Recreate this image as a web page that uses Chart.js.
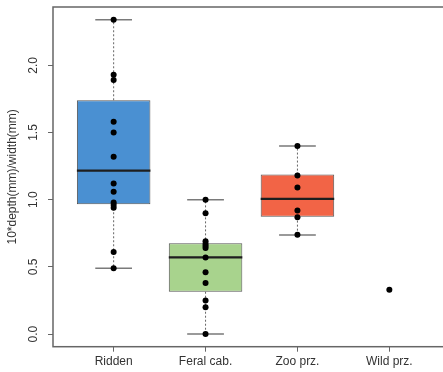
<!DOCTYPE html>
<html>
<head>
<meta charset="utf-8">
<script src="https://cdn.jsdelivr.net/npm/chart.js@4/dist/chart.umd.min.js"></script>
<style>
  html, body { margin: 0; padding: 0; background: #fff; overflow: hidden; }
  #wrap { width: 443px; height: 372px; overflow: hidden; }
</style>
</head>
<body>
<div id="wrap"><canvas id="c" width="460" height="372"></canvas></div>
<script>
// Groups along the x axis
const groups = ['Ridden', 'Feral cab.', 'Zoo prz.', 'Wild prz.'];

// Box summary per group (null = no box drawn)
const whiskerLow  = [0.489, 0.0,   0.738, null];
const boxLower    = [0.966, 0.315, 0.874, null];
const boxMedian   = [1.217, 0.571, 1.006, null];
const boxUpper    = [1.740, 0.675, 1.187, null];
const whiskerHigh = [2.340, 1.000, 1.400, null];

// Individual observations per group
const riddenPts = [2.34, 1.93, 1.89, 1.58, 1.50, 1.32, 1.12, 1.06, 0.98, 0.96, 0.94, 0.61, 0.49];
const feralPts  = [1.00, 0.90, 0.69, 0.67, 0.655, 0.64, 0.57, 0.46, 0.38, 0.25, 0.20, 0.00];
const zooPts    = [1.40, 1.18, 1.09, 0.92, 0.87, 0.74];
const wildPts   = [0.33];
const groupPts  = [riddenPts, feralPts, zooPts, wildPts];

// Y axis tick values
const yTicks = [0.0, 0.5, 1.0, 1.5, 2.0];

const boxColors = ['#4a90d2', '#a8d38d', '#f26446'];
const BOX_HALF = 0.4, CAP_HALF = 0.2;

// Build the drawable series from the arrays above
const boxData = [], medianData = [], stemData = [], capData = [], pointData = [];
groups.forEach((g, i) => {
  const x = i + 1;
  if (boxLower[i] !== null) {
    boxData.push({ x: x, y: [boxLower[i], boxUpper[i]] });
    medianData.push({ x: x - BOX_HALF, y: boxMedian[i] }, { x: x + BOX_HALF, y: boxMedian[i] }, { x: x + 0.5, y: null });
    stemData.push({ x: x, y: boxUpper[i] }, { x: x, y: whiskerHigh[i] }, { x: x + 0.01, y: null });
    stemData.push({ x: x, y: boxLower[i] }, { x: x, y: whiskerLow[i] }, { x: x + 0.01, y: null });
    capData.push({ x: x - CAP_HALF, y: whiskerHigh[i] }, { x: x + CAP_HALF, y: whiskerHigh[i] }, { x: x + 0.3, y: null });
    capData.push({ x: x - CAP_HALF, y: whiskerLow[i] }, { x: x + CAP_HALF, y: whiskerLow[i] }, { x: x + 0.3, y: null });
  }
  groupPts[i].forEach(v => pointData.push({ x: x, y: v }));
});

const FONT = '"Liberation Sans", Arial, Helvetica, sans-serif';

// Frame around the plot region plus rotated y tick labels
const framePlugin = {
  id: 'frame',
  afterDraw(chart) {
    const { ctx, chartArea: a, scales } = chart;
    ctx.save();
    ctx.strokeStyle = '#666';
    ctx.lineWidth = 1.5;
    ctx.strokeRect(a.left, a.top, a.right - a.left, a.bottom - a.top);
    ctx.fillStyle = '#333';
    ctx.font = '12px ' + FONT;
    ctx.textAlign = 'center';
    ctx.textBaseline = 'middle';
    yTicks.forEach(v => {
      const py = scales.y.getPixelForValue(v);
      ctx.save();
      ctx.translate(34, py);
      ctx.rotate(-Math.PI / 2);
      ctx.fillText(v.toFixed(1), 0, 0);
      ctx.restore();
    });
    ctx.restore();
  }
};

new Chart(document.getElementById('c'), {
  type: 'bar',
  data: {
    datasets: [
      {
        type: 'scatter',
        data: pointData,
        backgroundColor: '#000',
        borderColor: '#000',
        pointRadius: 3,
        pointBorderWidth: 0,
        order: 0
      },
      {
        type: 'line',
        data: medianData,
        borderColor: '#1e1e1e',
        borderWidth: 2.2,
        pointRadius: 0,
        spanGaps: false,
        order: 1
      },
      {
        type: 'line',
        data: stemData,
        borderColor: '#666',
        borderWidth: 1,
        borderDash: [2, 2],
        pointRadius: 0,
        spanGaps: false,
        order: 2
      },
      {
        type: 'line',
        data: capData,
        borderColor: '#7a7a7a',
        borderWidth: 1.5,
        pointRadius: 0,
        spanGaps: false,
        order: 2
      },
      {
        type: 'bar',
        data: boxData,
        backgroundColor: boxColors,
        borderColor: '#555',
        borderWidth: 1,
        borderSkipped: false,
        categoryPercentage: 0.8,
        barPercentage: 1.0,
        order: 3
      }
    ]
  },
  options: {
    responsive: false,
    animation: false,
    layout: { padding: { top: 7, right: 10, left: 0, bottom: 0 } },
    plugins: { legend: { display: false }, tooltip: { enabled: false } },
    scales: {
      x: {
        type: 'linear',
        offset: false,
        min: 0.34,
        max: 4.66,
        afterBuildTicks(scale) {
          scale.ticks = groups.map((g, i) => ({ value: i + 1 }));
        },
        afterFit(scale) { scale.height = 25.3; },
        ticks: {
          callback: (v) => groups[Math.round(v) - 1] || '',
          color: '#333',
          font: { family: FONT, size: 12 },
          padding: 3,
          maxRotation: 0,
          autoSkip: false
        },
        grid: { offset: false, drawOnChartArea: false, drawTicks: true, tickLength: 5, tickColor: '#666', lineWidth: 1 },
        border: { display: false }
      },
      y: {
        type: 'linear',
        min: -0.094,
        max: 2.434,
        afterBuildTicks(scale) {
          scale.ticks = yTicks.map(v => ({ value: v }));
        },
        afterFit(scale) { scale.width = 53; },
        ticks: { display: false, includeBounds: false },
        grid: { drawOnChartArea: false, drawTicks: true, tickLength: 5, tickColor: '#666', lineWidth: 1 },
        border: { display: false },
        title: {
          display: true,
          text: '10*depth(mm)/width(mm)',
          color: '#333',
          font: { family: FONT, size: 12 },
          padding: { top: 5, bottom: 0 }
        }
      }
    }
  },
  plugins: [framePlugin]
});
</script>
</body>
</html>
